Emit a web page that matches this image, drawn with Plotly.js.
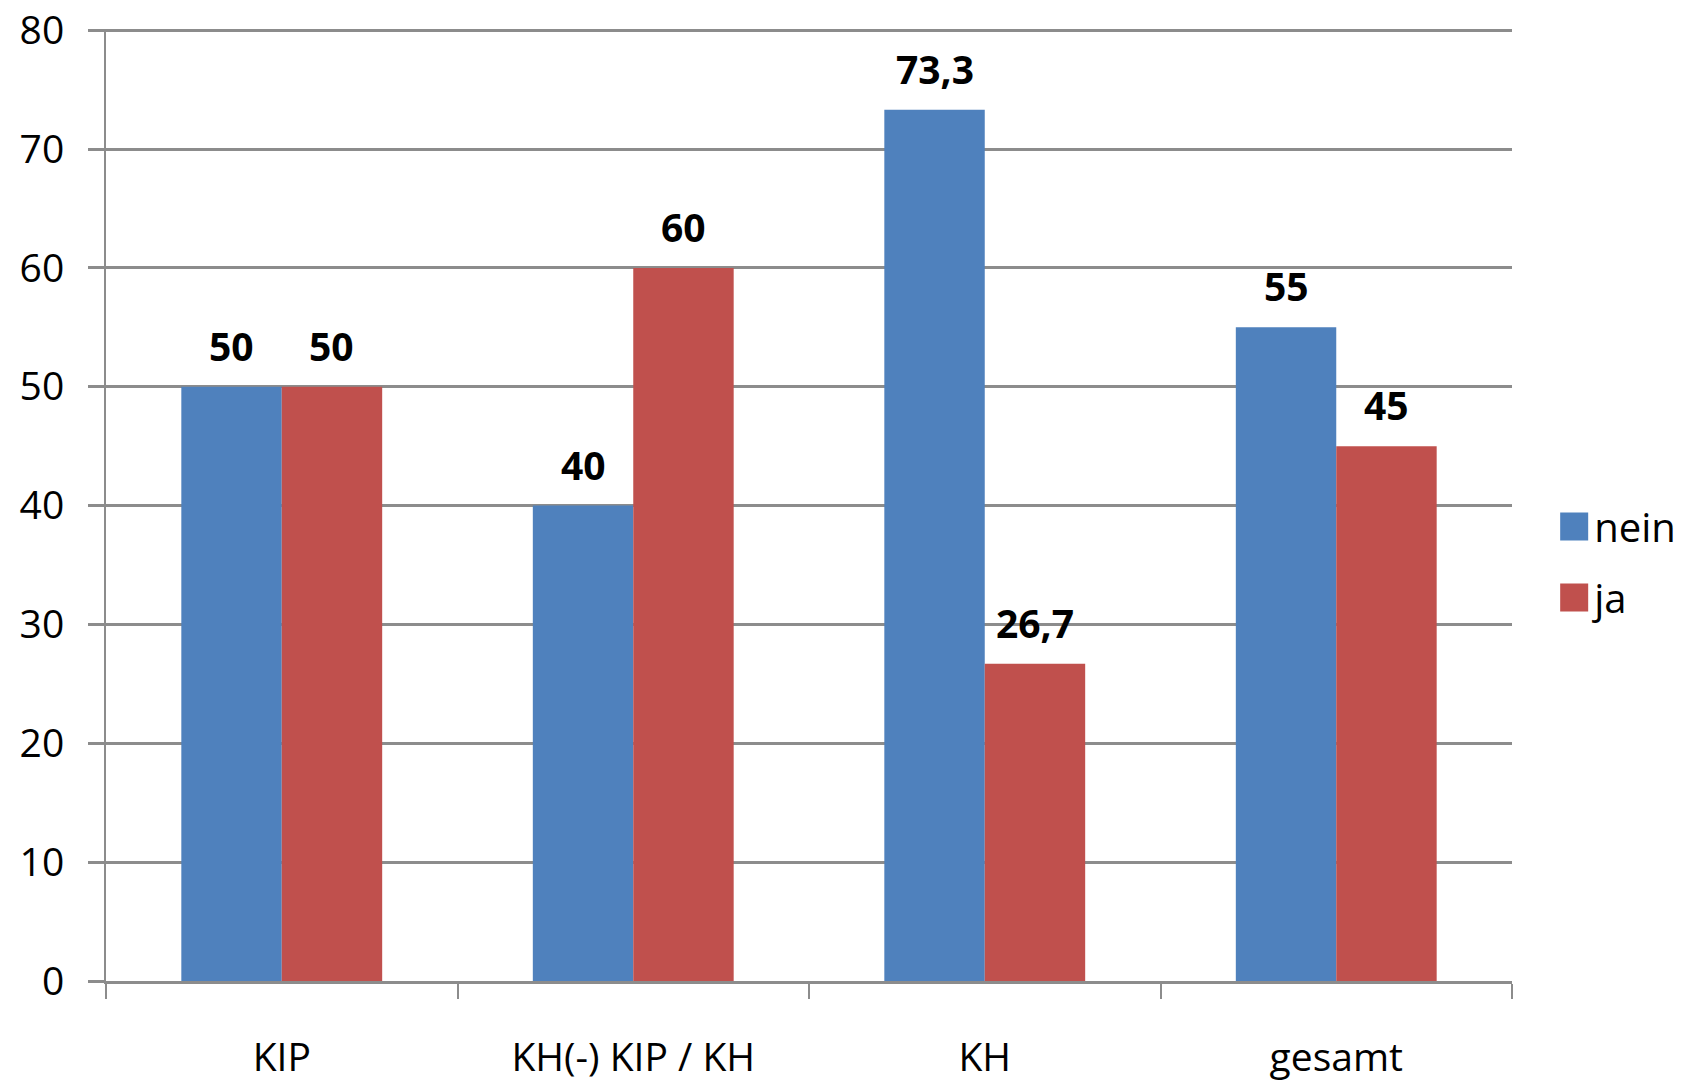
<!DOCTYPE html>
<html>
<head>
<meta charset="utf-8">
<script src="https://cdn.plot.ly/plotly-3.0.1.min.js"></script>
<style>html,body{margin:0;padding:0;background:#fff;}#chart{width:1694px;height:1085px;}</style>
</head>
<body>
<div id="chart"></div>
<script>
const categories = ["KIP", "KH(-) KIP / KH", "KH", "gesamt"];
const seriesNames = ["nein", "ja"];
const neinValues = [50, 40, 73.3, 55];
const jaValues = [50, 60, 26.7, 45];
const yTicks = [0, 10, 20, 30, 40, 50, 60, 70, 80];

const colors = ["#4F81BD", "#C0504D"];
const FONT = "Open Sans, Noto Sans, sans-serif";

const traces = [
  {type: "bar", name: seriesNames[0], x: categories, y: neinValues, marker: {color: colors[0]}, legendgroup: "a", hoverinfo: "x+y"},
  {type: "bar", name: seriesNames[1], x: categories, y: jaValues, marker: {color: colors[1]}, legendgroup: "b", hoverinfo: "x+y"}
];

const plotW = 1694 - 106 - 182;
const barW = plotW / categories.length * (1 - 1.5/3.5) / 2;
const fmt = v => String(v).replace(".", ",");
const annotations = [];
[neinValues, jaValues].forEach((vals, s) => {
  vals.forEach((v, i) => {
    annotations.push({
      x: categories[i], y: v, xref: "x", yref: "y",
      text: "<b>" + fmt(v) + "</b>", showarrow: false,
      xshift: (s === 0 ? -1 : 1) * barW / 2, yshift: 13,
      yanchor: "bottom", xanchor: "center",
      font: {family: FONT, size: 39, color: "#000"}
    });
  });
});

const layout = {
  width: 1694, height: 1085,
  margin: {l: 106, r: 182, t: 29, b: 104},
  paper_bgcolor: "#fff", plot_bgcolor: "#fff",
  barmode: "group", bargap: 1.5/3.5, bargroupgap: 0,
  separators: ",.",
  font: {family: FONT, size: 39, color: "#000"},
  showlegend: true,
  legend: {x: 1.03, xanchor: "left", y: 0.44, yanchor: "middle",
           traceorder: "grouped", tracegroupgap: 16,
           font: {family: FONT, size: 40, color: "#000"}, bgcolor: "rgba(0,0,0,0)"},
  xaxis: {type: "category", showline: true, linecolor: "#8c8c8c", linewidth: 3,
          ticks: "outside", tickson: "boundaries", ticklen: 15, tickwidth: 2, tickcolor: "#8c8c8c",
          showgrid: false, ticklabelstandoff: 40,
          tickfont: {family: FONT, size: 39, color: "#000"}, fixedrange: true},
  yaxis: {range: [0, 80.1], tickvals: yTicks, ticktext: yTicks.map(String),
          showline: true, linecolor: "#8c8c8c", linewidth: 2,
          ticks: "outside", ticklen: 16, tickwidth: 3, tickcolor: "#8c8c8c",
          showgrid: true, gridcolor: "#8c8c8c", gridwidth: 3, zeroline: false,
          ticklabelstandoff: 16, ticklabeloverflow: "allow",
          tickfont: {family: FONT, size: 39, color: "#000"}, fixedrange: true},
  annotations: annotations
};

Plotly.newPlot("chart", traces, layout, {displayModeBar: false, staticPlot: true}).then(() => {
  document.querySelectorAll(".legendpoints path").forEach(p => {
    p.setAttribute("d", "M14,14H-14V-14H14Z");
    p.style.strokeWidth = "0";
  });
});
</script>
</body>
</html>
